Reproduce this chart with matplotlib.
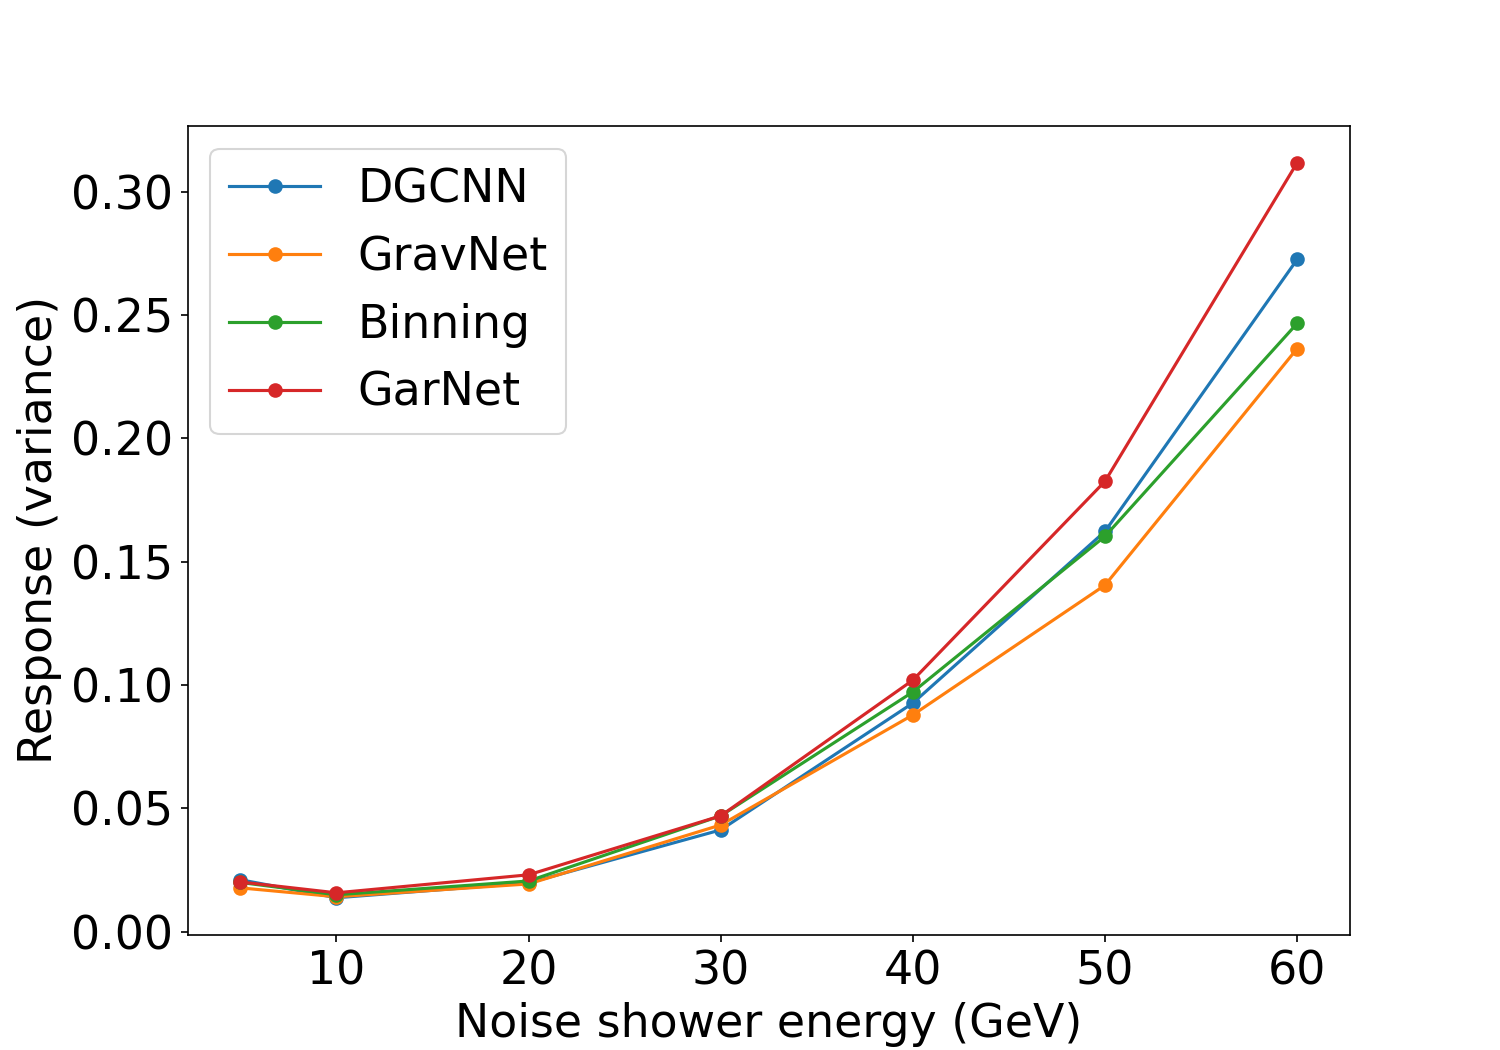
import numpy as np
import matplotlib
matplotlib.use('Agg')
from matplotlib import pyplot as plt

# noise shower energy (GeV)
energy = [5, 10, 20, 30, 40, 50, 60]

# response variance per model
dgcnn = [0.0211, 0.0138, 0.0198, 0.0413, 0.0927, 0.1623, 0.2725]
gravnet = [0.0178, 0.0142, 0.0194, 0.0433, 0.0879, 0.1405, 0.2364]
binning = [0.0200, 0.0150, 0.0206, 0.0470, 0.0972, 0.1603, 0.2466]
garnet = [0.0202, 0.0158, 0.0231, 0.0470, 0.1020, 0.1826, 0.3117]

plt.rcParams['font.size'] = 22
fig, ax = plt.subplots(figsize=(10, 7), dpi=150)
ax.plot(energy, dgcnn, 'o-', label='DGCNN')
ax.plot(energy, gravnet, 'o-', label='GravNet')
ax.plot(energy, binning, 'o-', label='Binning')
ax.plot(energy, garnet, 'o-', label='GarNet')

ax.set_xlabel('Noise shower energy (GeV)')
ax.set_ylabel('Response (variance)')
ax.legend(loc='upper left')

fig.savefig('out.png')
